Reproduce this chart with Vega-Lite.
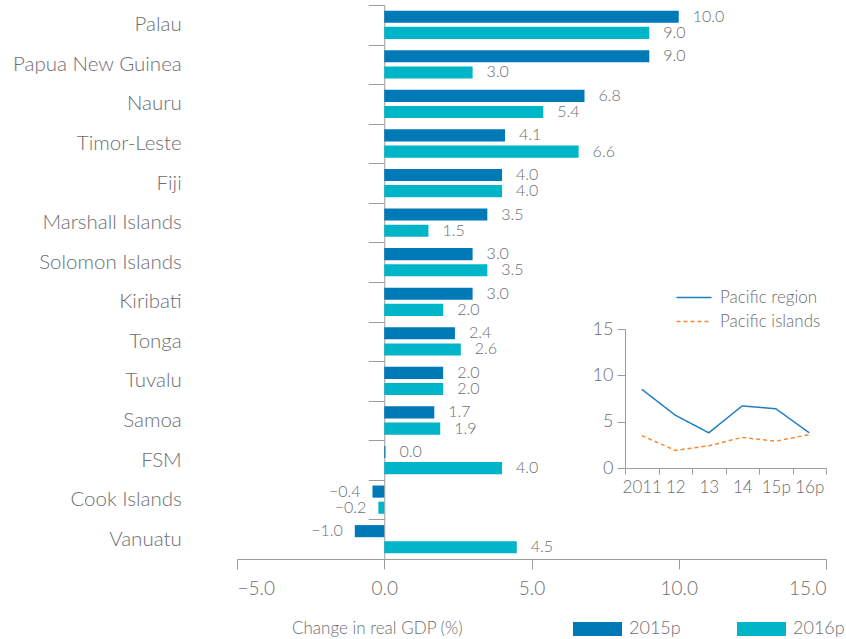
{
  "$schema": "https://vega.github.io/schema/vega-lite/v6.json",
  "width": 589,
  "height": 554,
  "autosize": {"type": "none"},
  "padding": {"left": 237, "top": 5, "right": 20, "bottom": 80},
  "background": "white",
  "config": {
    "font": "Lato",
    "view": {"stroke": null},
    "axis": {"grid": false, "domainColor": "#9c9c9c", "tickColor": "#9c9c9c", "labelColor": "#6d6e71", "labelFont": "Lato", "labelFontWeight": 300, "titleColor": "#6d6e71"},
    "legend": {"labelColor": "#6d6e71", "labelFont": "Lato", "labelFontWeight": 300, "titleColor": "#6d6e71", "titleFont": "Lato"}
  },
  "datasets": {
    "bars": [
      {"country": "Palau", "series": "2015p", "value": 10.0},
      {"country": "Palau", "series": "2016p", "value": 9.0},
      {"country": "Papua New Guinea", "series": "2015p", "value": 9.0},
      {"country": "Papua New Guinea", "series": "2016p", "value": 3.0},
      {"country": "Nauru", "series": "2015p", "value": 6.8},
      {"country": "Nauru", "series": "2016p", "value": 5.4},
      {"country": "Timor-Leste", "series": "2015p", "value": 4.1},
      {"country": "Timor-Leste", "series": "2016p", "value": 6.6},
      {"country": "Fiji", "series": "2015p", "value": 4.0},
      {"country": "Fiji", "series": "2016p", "value": 4.0},
      {"country": "Marshall Islands", "series": "2015p", "value": 3.5},
      {"country": "Marshall Islands", "series": "2016p", "value": 1.5},
      {"country": "Solomon Islands", "series": "2015p", "value": 3.0},
      {"country": "Solomon Islands", "series": "2016p", "value": 3.5},
      {"country": "Kiribati", "series": "2015p", "value": 3.0},
      {"country": "Kiribati", "series": "2016p", "value": 2.0},
      {"country": "Tonga", "series": "2015p", "value": 2.4},
      {"country": "Tonga", "series": "2016p", "value": 2.6},
      {"country": "Tuvalu", "series": "2015p", "value": 2.0},
      {"country": "Tuvalu", "series": "2016p", "value": 2.0},
      {"country": "Samoa", "series": "2015p", "value": 1.7},
      {"country": "Samoa", "series": "2016p", "value": 1.9},
      {"country": "FSM", "series": "2015p", "value": 0.04},
      {"country": "FSM", "series": "2016p", "value": 4.0},
      {"country": "Cook Islands", "series": "2015p", "value": -0.4},
      {"country": "Cook Islands", "series": "2016p", "value": -0.2},
      {"country": "Vanuatu", "series": "2015p", "value": -1.0},
      {"country": "Vanuatu", "series": "2016p", "value": 4.5}
    ],
    "inset": [
      {"year": "2011", "series": "Pacific region", "value": 8.5},
      {"year": "12", "series": "Pacific region", "value": 5.7},
      {"year": "13", "series": "Pacific region", "value": 3.8},
      {"year": "14", "series": "Pacific region", "value": 6.7},
      {"year": "15p", "series": "Pacific region", "value": 6.4},
      {"year": "16p", "series": "Pacific region", "value": 3.8},
      {"year": "2011", "series": "Pacific islands", "value": 3.5},
      {"year": "12", "series": "Pacific islands", "value": 1.9},
      {"year": "13", "series": "Pacific islands", "value": 2.4},
      {"year": "14", "series": "Pacific islands", "value": 3.3},
      {"year": "15p", "series": "Pacific islands", "value": 2.9},
      {"year": "16p", "series": "Pacific islands", "value": 3.6}
    ]
  },
  "layer": [
    {
      "data": {"name": "bars"},
      "encoding": {
        "y": {
          "field": "country", "type": "nominal",
          "sort": ["Palau", "Papua New Guinea", "Nauru", "Timor-Leste", "Fiji", "Marshall Islands", "Solomon Islands", "Kiribati", "Tonga", "Tuvalu", "Samoa", "FSM", "Cook Islands", "Vanuatu"],
          "scale": {"paddingInner": 0, "paddingOuter": 0},
          "axis": {"orient": "left", "offset": -147.25, "title": null, "tickBand": "extent", "tickSize": 16, "labelPadding": 187, "labelFontSize": 20.5, "domain": true}
        },
        "yOffset": {"field": "series", "type": "nominal", "scale": {"paddingInner": 0.25, "paddingOuter": 0.35}},
        "x": {
          "field": "value", "type": "quantitative",
          "scale": {"domain": [-5, 15], "nice": false, "zero": false},
          "axis": {"orient": "bottom", "values": [-5, 0, 5, 10, 15], "format": ".1f", "tickSize": 10, "labelPadding": 10, "labelFontSize": 19, "title": null}
        }
      },
      "layer": [
        {
          "mark": {"type": "bar"},
          "encoding": {
            "color": {
              "field": "series", "type": "nominal",
              "scale": {"domain": ["2015p", "2016p"], "range": ["#0079b7", "#00b5c8"]},
              "legend": {
                "orient": "none", "legendX": 55, "legendY": 615, "direction": "horizontal",
                "title": "Change in real GDP (%)", "titleOrient": "left", "titleFontSize": 17, "titleFontWeight": 300, "titlePadding": 107, "titleLimit": 400,
                "symbolType": "M-1,-1H6V1H-1Z", "symbolSize": 196, "symbolStrokeWidth": 0, "symbolOpacity": 1,
                "labelFontSize": 18, "labelOffset": 40, "columnPadding": 54, "labelLimit": 200
              }
            }
          }
        },
        {
          "transform": [{"filter": "datum.value >= 0"}],
          "mark": {"type": "text", "align": "left", "baseline": "middle", "dx": 14, "fontSize": 16, "fontWeight": 300, "color": "#6d6e71"},
          "encoding": {"text": {"field": "value", "type": "quantitative", "format": ".1f"}}
        },
        {
          "transform": [{"filter": "datum.value < 0"}],
          "mark": {"type": "text", "align": "right", "baseline": "middle", "dx": -12, "fontSize": 16, "fontWeight": 300, "color": "#6d6e71"},
          "encoding": {"text": {"field": "value", "type": "quantitative", "format": ".1f"}}
        }
      ]
    },
    {
      "data": {"name": "inset"},
      "mark": {"type": "line", "strokeWidth": 1.5},
      "encoding": {
        "x": {
          "field": "year", "type": "ordinal", "bandPosition": 0.5,
          "sort": ["2011", "12", "13", "14", "15p", "16p"],
          "scale": {"type": "band", "range": [388, 589], "paddingInner": 0, "paddingOuter": 0},
          "axis": {"orient": "bottom", "offset": -91, "tickBand": "extent", "tickSize": 6, "labelAngle": 0, "labelFontSize": 17, "labelPadding": 5, "title": null}
        },
        "y": {
          "field": "value", "type": "quantitative",
          "scale": {"domain": [0, 15], "range": [463, 324], "nice": false},
          "axis": {"orient": "left", "offset": -388, "values": [0, 5, 10, 15], "tickSize": 8, "labelFontSize": 18, "labelPadding": 4, "title": null}
        },
        "color": {
          "field": "series", "type": "nominal",
          "scale": {"domain": ["Pacific region", "Pacific islands"], "range": ["#1f7fc1", "#f58a32"]},
          "legend": {"orient": "none", "legendX": 438, "legendY": 284, "title": null, "symbolType": "M-1,0H4", "symbolSize": 196, "symbolStrokeWidth": 1.5, "labelFontSize": 17, "labelOffset": 28, "rowPadding": 6}
        },
        "strokeDash": {
          "field": "series", "type": "nominal",
          "scale": {"domain": ["Pacific region", "Pacific islands"], "range": [[1, 0], [4, 3]]},
          "legend": {"orient": "none", "legendX": 438, "legendY": 284, "title": null, "symbolType": "M-1,0H4", "symbolSize": 196, "symbolStrokeWidth": 1.5, "labelFontSize": 17, "labelOffset": 28, "rowPadding": 6}
        }
      }
    }
  ],
  "resolve": {
    "scale": {"x": "independent", "y": "independent", "color": "independent", "strokeDash": "independent"},
    "axis": {"x": "independent", "y": "independent"},
    "legend": {"color": "independent"}
  }
}
